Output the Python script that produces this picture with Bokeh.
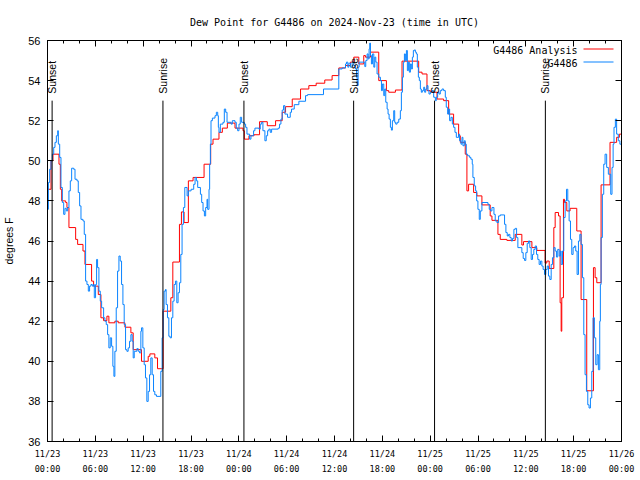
import numpy as np
from datetime import datetime, timedelta
from bokeh.plotting import figure
from bokeh.models import (Range1d, FixedTicker, DatetimeTickFormatter, LinearAxis,
                          DatetimeAxis, Label, BoxAnnotation, CustomJSTickFormatter)
from bokeh.core.properties import value
from bokeh.embed import file_html
from bokeh.resources import INLINE

title_text = "Dew Point for G4486 on 2024-Nov-23 (time in UTC)"
y_label = "degrees F"
start_time = datetime(2024, 11, 23, 0, 0)
end_time = datetime(2024, 11, 26, 0, 0)

# G4486 Analysis (red): hours after 2024-11-23 00:00 UTC, dew point in F
analysis_hours = [0.0, 0.44, 0.69, 1.44, 1.61, 1.78, 2.28, 2.44, 2.69, 3.53, 3.78, 4.45, 4.70,
                  5.53, 5.78, 6.37, 6.70, 7.03, 7.45, 7.70, 8.45, 8.87, 9.71, 10.46, 10.75,
                  11.79, 12.63, 12.84, 13.46, 13.80, 14.50, 15.47, 15.72, 16.55, 16.80, 17.13,
                  17.67, 18.26, 19.64, 20.47, 20.76, 21.51, 21.93, 22.56, 23.52, 24.52, 24.69,
                  25.27, 25.90, 26.60, 27.57, 28.61, 29.44, 29.86, 30.70, 31.74, 32.78, 33.70,
                  34.78, 35.70, 36.54, 37.38, 38.00, 38.42, 39.05, 39.67, 39.88, 40.51, 41.55,
                  42.51, 42.80, 43.64, 44.47, 46.56, 46.98, 47.60, 48.02, 48.86, 49.69, 50.32,
                  50.94, 51.57, 51.78, 52.40, 52.61, 52.82, 53.45, 53.86, 54.49, 55.53, 55.75,
                  56.50, 56.79, 57.62, 58.67, 59.50, 59.71, 60.76, 61.38, 62.42, 62.63, 62.93,
                  63.51, 63.68, 64.10, 64.30, 64.43, 64.51, 64.72, 64.85, 65.14, 65.55, 66.39,
                  66.93, 67.64, 68.48, 68.69, 68.90, 69.44, 70.56, 71.39, 71.73, 72.0]
analysis_dewpt = [48.58, 50.0, 50.33, 49.83, 48.58, 48.0, 47.92, 47.67, 46.67, 46.08, 45.83, 45.5, 44.83,
                  44.0, 43.75, 43.33, 42.17, 42.03, 42.25, 41.92, 42.0, 41.92, 41.7, 41.42, 40.58,
                  40.0, 40.25, 40.37, 40.17, 39.63, 42.5, 43.17, 44.95, 46.83, 47.45, 46.92,
                  49.0, 49.17, 49.83, 50.83, 51.08, 51.42, 51.63, 51.88, 51.63, 51.5, 51.08,
                  51.25, 51.3, 51.95, 51.75, 52.0, 52.42, 52.7, 53.08, 53.58, 53.75, 53.87,
                  54.03, 54.25, 54.63, 54.75, 54.92, 55.17, 54.83, 55.25, 55.17, 55.42, 54.0,
                  53.5, 53.42, 53.53, 54.97, 54.42, 54.33, 53.5, 53.42, 53.08, 53.0, 52.33,
                  51.83, 51.25, 50.92, 50.33, 48.5, 48.83, 48.42, 48.25, 47.8, 47.25, 47.03,
                  46.33, 46.08, 46.03, 46.33, 45.8, 45.97, 45.67, 45.53, 44.9, 45.0, 44.63,
                  46.67, 47.42, 47.25, 42.92, 41.5, 43.17, 48.08, 47.92, 47.5, 47.63, 46.5,
                  43.08, 38.53, 44.67, 44.17, 43.92, 48.8, 50.92, 51.17, 51.33, 51.33]

# G4486 station (blue)
station_hours = [0.0, 0.11, 0.27, 0.44, 0.61, 0.78, 0.94, 1.11, 1.28, 1.36, 1.53, 1.69, 1.86, 2.03,
                 2.19, 2.36, 2.53, 2.69, 2.86, 3.03, 3.28, 3.45, 3.70, 3.86, 4.03, 4.20, 4.45, 4.61,
                 4.78, 4.95, 5.12, 5.28, 5.45, 5.62, 5.78, 5.87, 6.03, 6.16, 6.28, 6.45, 6.62, 6.79,
                 7.04, 7.20, 7.37, 7.54, 7.70, 7.87, 8.04, 8.20, 8.33, 8.45, 8.62, 8.79, 8.96, 9.12,
                 9.29, 9.46, 9.62, 9.79, 9.96, 10.12, 10.29, 10.46, 10.62, 10.75, 10.88, 11.21, 11.38,
                 11.54, 11.71, 11.79, 11.96, 12.13, 12.29, 12.46, 12.63, 12.80, 12.96, 13.13, 13.30,
                 13.46, 13.67, 14.21, 14.38, 14.51, 14.63, 14.80, 14.88, 15.05, 15.22, 15.38, 15.55,
                 15.72, 15.88, 16.05, 16.22, 16.38, 16.55, 16.72, 16.88, 17.05, 17.22, 17.51, 17.67,
                 18.01, 18.34, 18.51, 18.68, 18.84, 19.18, 19.34, 19.51, 19.68, 19.84, 20.01, 20.09,
                 20.26, 20.34, 20.43, 20.51, 20.68, 21.01, 21.18, 21.35, 21.43, 21.51, 21.68, 22.01,
                 22.18, 22.35, 22.52, 23.02, 23.18, 23.52, 23.68, 23.85, 24.02, 24.18, 24.35, 24.69,
                 24.85, 25.02, 25.35, 25.52, 25.85, 26.02, 26.52, 26.69, 26.86, 27.02, 27.27, 27.44,
                 27.61, 27.77, 27.94, 28.11, 28.94, 29.11, 29.28, 29.44, 29.61, 29.78, 30.11, 30.45,
                 30.61, 30.95, 31.53, 32.37, 32.62, 34.62, 36.54, 36.96, 37.38, 37.50, 37.67, 37.80,
                 38.00, 38.21, 38.42, 38.63, 38.76, 38.84, 38.96, 39.09, 39.80, 39.92, 40.09, 40.22,
                 40.34, 40.42, 40.51, 40.63, 40.76, 40.93, 41.05, 41.18, 41.34, 41.55, 41.76, 41.89,
                 42.01, 42.18, 42.30, 42.43, 42.60, 42.72, 42.85, 43.01, 43.14, 43.26, 43.43, 43.55,
                 43.68, 43.85, 44.06, 44.26, 44.39, 44.52, 44.64, 44.77, 44.89, 45.02, 45.14, 45.27,
                 45.39, 45.52, 45.64, 45.77, 45.89, 46.02, 46.14, 46.27, 46.39, 46.52, 46.64, 46.77,
                 46.89, 47.02, 47.19, 47.31, 47.44, 47.60, 47.73, 47.85, 48.02, 48.23, 48.44, 48.65,
                 48.77, 48.94, 49.11, 49.27, 49.48, 49.69, 49.90, 50.02, 50.19, 50.32, 50.44, 50.61,
                 50.78, 50.94, 51.11, 51.28, 51.57, 51.69, 51.86, 51.99, 52.11, 52.28, 52.40, 52.53,
                 52.70, 52.95, 53.11, 53.28, 53.36, 53.53, 53.70, 53.83, 53.99, 54.16, 54.29, 54.49,
                 55.25, 55.41, 55.58, 55.75, 56.00, 56.16, 56.37, 56.58, 56.79, 57.33, 57.50, 57.67,
                 57.83, 58.00, 58.17, 58.33, 58.50, 58.67, 58.84, 59.00, 59.50, 59.67, 59.84, 60.00,
                 60.17, 60.34, 60.50, 60.67, 60.84, 61.00, 61.17, 61.34, 61.50, 61.67, 61.84, 62.01,
                 62.17, 62.34, 62.51, 62.68, 62.84, 63.01, 63.18, 63.34, 63.51, 63.68, 63.84, 64.00,
                 64.18, 64.34, 64.43, 64.60, 64.76, 64.93, 65.10, 65.26, 65.43, 65.60, 65.76, 65.93,
                 66.10, 66.26, 66.43, 66.60, 66.77, 66.93, 67.10, 67.27, 67.43, 67.60, 67.77, 67.93,
                 68.10, 68.27, 68.43, 68.60, 68.77, 68.94, 69.10, 69.27, 69.35, 69.44, 69.60, 69.77,
                 69.94, 70.14, 70.35, 70.65, 70.81, 70.95, 71.06, 71.23, 71.39, 71.60, 71.80, 72.0]
station_dewpt = [47.58, 48.92, 49.58, 50.0, 50.33, 50.67, 50.92, 51.25, 51.5, 50.83, 50.17, 48.67, 47.92, 47.33,
                 47.63, 47.5, 47.67, 48.5, 49.0, 49.63, 49.58, 49.08, 49.0, 48.42, 47.75, 47.08, 47.0, 46.33,
                 44.0, 43.83, 43.5, 43.75, 43.83, 43.75, 43.83, 43.17, 43.83, 45.08, 44.67, 43.5, 43.0, 42.67,
                 42.17, 42.0, 41.83, 41.33, 40.67, 41.17, 40.75, 39.75, 39.25, 40.5, 42.67, 44.5, 45.25, 45.0,
                 43.83, 42.83, 41.83, 40.58, 40.5, 40.67, 41.0, 41.33, 41.0, 40.17, 40.5, 40.63, 40.5,
                 40.42, 41.5, 41.67, 40.67, 39.83, 39.17, 38.0, 38.5, 39.33, 40.17, 39.33, 38.5,
                 38.33, 38.25, 39.5, 41.17, 42.58, 43.5, 43.58, 42.83, 42.17, 41.25, 41.17, 42.17,
                 43.0, 43.83, 44.0, 42.92, 43.42, 43.92, 45.33, 46.83, 47.67, 48.67, 48.25, 48.5,
                 48.58, 48.83, 49.17, 49.0, 48.67, 48.33, 47.92, 47.5, 47.25, 47.67, 48.08, 47.58,
                 48.58, 49.83, 50.83, 52.0, 52.13, 52.25, 52.42, 52.25, 51.67, 51.42, 51.83, 51.92,
                 52.58, 52.42, 51.92, 51.83, 52.0, 51.92, 51.63, 51.5, 51.83, 52.17, 51.92, 51.83,
                 51.67, 51.33, 51.08, 51.25, 51.5, 51.63, 51.58, 51.83, 51.92, 51.5, 51.0, 51.25,
                 51.5, 51.58, 51.42, 51.58, 51.63, 51.83, 52.08, 52.53, 52.75, 52.33, 52.17, 52.42,
                 52.58, 52.8, 52.97, 53.25, 53.3, 53.58, 54.58, 54.63, 54.83, 54.92, 54.67, 54.87,
                 54.67, 54.92, 54.75, 54.58, 54.17, 53.75, 54.67, 54.92, 54.7, 55.0, 55.33, 55.08,
                 55.58, 55.87, 55.25, 54.83, 55.33, 54.67, 55.17, 54.92, 54.33, 54.17, 54.0, 53.5,
                 53.83, 53.25, 53.58, 52.92, 52.58, 52.33, 52.08, 51.67, 51.53, 52.0, 52.5, 51.92,
                 51.83, 51.92, 52.08, 52.5, 53.42, 54.17, 54.92, 55.33, 55.0, 55.5, 54.5, 54.92,
                 54.42, 54.83, 54.58, 55.17, 55.5, 55.53, 55.42, 55.33, 54.67, 54.17, 54.0, 53.58,
                 53.42, 53.5, 53.67, 53.42, 53.58, 53.75, 53.5, 53.33, 53.42, 53.5, 53.17, 53.0,
                 53.17, 53.42, 53.33, 53.5, 53.58, 53.5, 53.17, 52.67, 52.33, 52.58, 52.0, 52.17,
                 51.83, 51.67, 51.42, 51.17, 51.33, 51.0, 50.83, 51.17, 50.75, 51.0, 50.83, 50.33,
                 50.25, 50.17, 50.08, 49.83, 49.17, 48.75, 48.5, 48.0, 47.58, 47.08, 47.5, 47.92,
                 47.83, 47.58, 47.5, 47.67, 47.33, 47.0, 46.92, 47.25, 47.3, 46.83, 46.42, 46.25,
                 46.33, 46.17, 46.0, 46.13, 46.58, 46.63, 46.17, 45.67, 45.42, 45.13, 45.03, 45.42,
                 45.88, 46.0, 45.67, 45.08, 45.33, 45.58, 45.75, 45.33, 45.08, 44.83, 45.0, 44.75,
                 44.58, 44.33, 44.58, 44.75, 44.25, 44.08, 44.83, 45.17, 45.67, 45.5, 45.2, 45.58,
                 45.25, 45.5, 44.83, 45.5, 47.17, 48.0, 48.58, 48.0, 47.0, 46.08, 45.33, 45.67,
                 45.75, 45.5, 44.33, 46.0, 46.33, 45.83, 44.17, 41.33, 39.33, 38.5, 37.83, 37.67,
                 38.17, 39.5, 42.17, 41.17, 39.83, 40.33, 39.58, 42.0, 43.83, 46.17, 48.33, 49.83,
                 50.33, 49.67, 49.33, 48.33, 49.67, 50.83, 51.67, 52.08, 51.33, 51.0, 50.83, 50.83]

sunset_hours = [0.58, 24.64, 48.55]
sunrise_hours = [14.48, 38.40, 62.45]
sun_line_top = 53.0
sun_text_base = 53.35
y_ticks = [36, 38, 40, 42, 44, 46, 48, 50, 52, 54, 56]
major_step_hours = 6
minor_step_hours = 2
legend_names = ["G4486 Analysis", "G4486"]
red = "#ff0000"
blue = "#0a84ff"


def to_dt(hours):
    return [start_time + timedelta(hours=h) for h in hours]


def dt_fmt(f):
    return DatetimeTickFormatter(hours=f, hourmin=f, days=f, minutes=f,
                                 minsec=f, seconds=f, months=f, years=f)


epoch = datetime(1970, 1, 1)
t0 = (start_time - epoch).total_seconds() * 1000.0
span_h = int((end_time - start_time).total_seconds() // 3600)
major_ticks = [t0 + h * 3600000.0 for h in range(0, span_h + 1, major_step_hours)]
minor_ticks = [t0 + h * 3600000.0 for h in range(0, span_h + 1, minor_step_hours)]

FRAME_H = 401
p = figure(width=636, height=478, x_axis_type="datetime",
           x_range=Range1d(start_time, end_time), y_range=Range1d(36, 56),
           output_backend="svg", toolbar_location=None,
           min_border_left=46, min_border_right=15, min_border_top=40, min_border_bottom=37)

p.title.text = title_text
p.title.align = "center"
p.title.text_font = "DejaVu Sans Mono"
p.title.text_font_size = "10px"
p.title.text_font_style = "normal"
p.title.text_color = "black"
p.title.standoff = 25

p.xgrid.visible = False
p.ygrid.visible = False
p.outline_line_color = "black"
p.outline_line_alpha = 1.0
p.outline_line_width = 1

blank = CustomJSTickFormatter(code="return ''")
xticker = FixedTicker(ticks=major_ticks, minor_ticks=minor_ticks)
xticker_plain = FixedTicker(ticks=major_ticks, minor_ticks=[])
yticker = FixedTicker(ticks=y_ticks, minor_ticks=[])

# bottom axis: first label line (date)
xa = p.xaxis[0]
xa.ticker = xticker
xa.formatter = dt_fmt("%m/%d")
xa.major_tick_in = 6
xa.major_tick_out = 0
xa.minor_tick_in = 3
xa.minor_tick_out = 0
xa.major_label_text_font = "DejaVu Sans Mono"
xa.major_label_text_font_size = "8.5px"
xa.major_label_standoff = 7
xa.axis_line_color = "black"
xa.major_label_text_color = "black"

# second label line (time of day)
xb = DatetimeAxis(ticker=xticker_plain, formatter=dt_fmt("%H:%M"),
                  major_tick_in=0, major_tick_out=0, minor_tick_in=0, minor_tick_out=0,
                  axis_line_color=None, major_label_standoff=2,
                  major_label_text_font="DejaVu Sans Mono", major_label_text_font_size="8.5px",
                  major_label_text_color="black")
p.add_layout(xb, "below")

ya = p.yaxis[0]
ya.ticker = yticker
ya.major_tick_in = 6
ya.major_tick_out = 0
ya.minor_tick_in = 0
ya.minor_tick_out = 0
ya.major_label_text_font = "Liberation Sans"
ya.major_label_text_font_size = "11px"
ya.major_label_standoff = 7
ya.major_label_text_color = "black"
ya.axis_label = y_label
ya.axis_label_text_font = "Liberation Sans"
ya.axis_label_text_font_size = "10.5px"
ya.axis_label_text_font_style = "normal"
ya.axis_label_standoff = 10
ya.axis_label_text_color = "black"

# mirrored tick marks on top and right
top_axis = DatetimeAxis(ticker=xticker, formatter=blank, major_tick_in=6, major_tick_out=0,
                        minor_tick_in=3, minor_tick_out=0, major_label_standoff=0)
right_axis = LinearAxis(ticker=yticker, formatter=blank, major_tick_in=6, major_tick_out=0,
                        minor_tick_in=0, minor_tick_out=0, major_label_standoff=0)
p.add_layout(top_axis, "above")
p.add_layout(right_axis, "right")

# data
p.step(x=to_dt(analysis_hours), y=analysis_dewpt, mode="after", line_color=red, line_width=1)
p.step(x=to_dt(station_hours), y=station_dewpt, mode="after", line_color=blue, line_width=1)

# sunrise / sunset markers
sun_hours = sunset_hours + sunrise_hours
sun_names = ["Sunset"] * len(sunset_hours) + ["Sunrise"] * len(sunrise_hours)
sun_x = to_dt(sun_hours)
p.segment(x0=sun_x, y0=[36] * len(sun_x), x1=sun_x, y1=[sun_line_top] * len(sun_x),
          line_color="black", line_width=1)
p.text(x=sun_x, y=[sun_text_base] * len(sun_x), text=sun_names, angle=np.pi / 2,
       text_align="left", text_baseline="middle", text_font=value("Liberation Sans"),
       text_font_size="10.5px", text_color="black")

# legend (gnuplot style: text left, sample right), frame-relative screen units
for i, (name, col) in enumerate(zip(legend_names, [red, blue])):
    yy = FRAME_H - 10 - 13 * i
    p.add_layout(Label(x=530, y=yy, x_units="screen", y_units="screen", text=name,
                       text_align="right", text_baseline="middle",
                       text_font="DejaVu Sans Mono", text_font_size="10px", text_color="black"))
    p.add_layout(BoxAnnotation(left=536, right=566, bottom=yy + 1, top=yy + 2,
                               left_units="screen", right_units="screen",
                               bottom_units="screen", top_units="screen",
                               fill_color=col, fill_alpha=1.0, line_alpha=0))

p.background_fill_color = "white"
p.border_fill_color = "white"

open("out.html", "w").write(file_html(p, INLINE))
